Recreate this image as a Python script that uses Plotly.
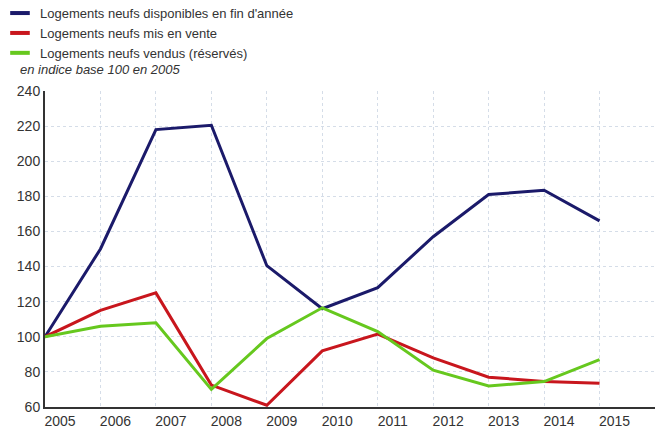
import plotly.graph_objects as go

years = [2005, 2006, 2007, 2008, 2009, 2010, 2011, 2012, 2013, 2014, 2015]
disponibles = [100, 150, 218, 220.5, 140.5, 116, 128, 157, 181, 183.5, 166]
mis_en_vente = [100, 115, 125, 72.5, 61, 92, 101.5, 88, 77, 74.5, 73.5]
vendus = [100, 106, 108, 70, 99, 116.5, 103, 81, 72, 74.5, 87]

names = ["Logements neufs disponibles en fin d'année",
         "Logements neufs mis en vente",
         "Logements neufs vendus (réservés)"]
colors = ["#1b1a6a", "#c8161d", "#66c81e"]
series = [disponibles, mis_en_vente, vendus]
y_ticks = [60, 80, 100, 120, 140, 160, 180, 200, 220, 240]

fig = go.Figure()
for name, col, ys in zip(names, colors, series):
    fig.add_trace(go.Scatter(x=years, y=ys, mode="lines", name=name,
                             line=dict(color=col, width=3), showlegend=False))
for name, col in zip(names, colors):
    fig.add_trace(go.Scatter(x=[None], y=[None], mode="markers", name=name,
                             marker=dict(symbol="line-ew", size=14,
                                         line=dict(color=col, width=4))))

fig.add_annotation(text="<i>en indice base 100 en 2005</i>", xref="paper", yref="paper",
                   x=-0.044, y=1.0, xanchor="left", yanchor="bottom", yshift=12,
                   showarrow=False, font=dict(size=13, color="#333"))

fig.update_layout(
    width=658, height=430,
    margin=dict(l=45, r=3, t=91, b=23, autoexpand=False),
    paper_bgcolor="white", plot_bgcolor="white",
    font=dict(family="Liberation Sans, Arial, sans-serif", color="#333", size=14),
    legend=dict(x=-0.0738, y=1.294, xanchor="left", yanchor="top",
                xref="paper", yref="paper",
                font=dict(size=13, color="#333"),
                itemwidth=30, bgcolor="rgba(0,0,0,0)"),
    xaxis=dict(range=[2005, 2016], tickvals=years, ticktext=[str(y) for y in years],
               showgrid=True, gridcolor="#d5dde8", griddash="dot", gridwidth=1,
               showline=True, linecolor="#333", linewidth=2, ticks="",
               ticklabelshift=15, zeroline=False, fixedrange=True),
    yaxis=dict(range=[60, 240], tickvals=y_ticks,
               showgrid=True, gridcolor="#d5dde8", griddash="dot", gridwidth=1,
               showline=True, linecolor="#333", linewidth=2, ticks="",
               zeroline=False),
)
fig.write_html("out.html", config={"displayModeBar": False},
               post_script="document.body.style.margin='0';")
